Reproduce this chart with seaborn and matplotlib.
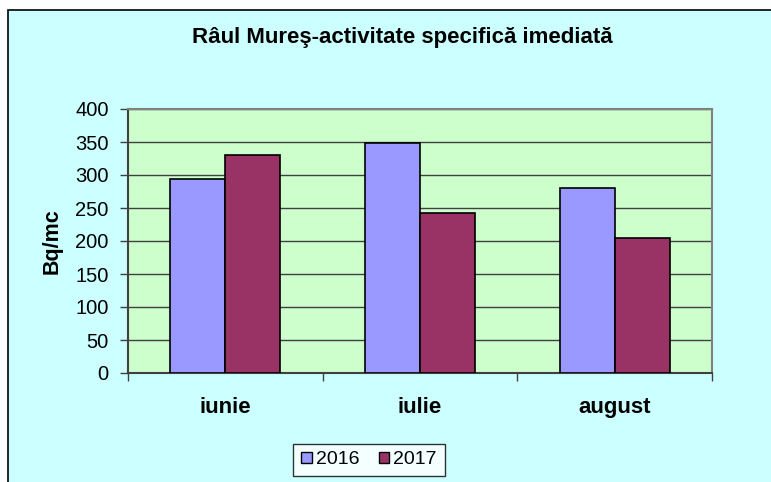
import matplotlib
matplotlib.use("Agg")
import matplotlib.pyplot as plt
import matplotlib.patches as mpatches
from matplotlib.ticker import FixedLocator
import seaborn as sns
import pandas as pd

# data
months = ["iunie", "iulie", "august"]
years = ["2016", "2017"]
values_2016 = [294, 348, 281]
values_2017 = [330, 243, 204]
colors = ["#9999FF", "#993366"]

df = pd.DataFrame({
    "luna": months * 2,
    "an": [years[0]] * 3 + [years[1]] * 3,
    "val": values_2016 + values_2017,
})

sns.set_theme(style="white")
plt.rcParams["font.family"] = ["Liberation Sans", "DejaVu Sans"]
plt.rcParams["text.color"] = "black"
plt.rcParams["xtick.color"] = "black"
plt.rcParams["ytick.color"] = "black"
plt.rcParams["axes.labelcolor"] = "black"

fig = plt.figure(figsize=(7.71, 4.82), dpi=100)
fig.patch.set_facecolor("white")
# chart area background with border (top/left visible)
bg = mpatches.Rectangle((8 / 771, -0.05), 1.1, 1 - 10 / 482 + 0.05,
                        transform=fig.transFigure, facecolor="#CCFFFF",
                        edgecolor="black", linewidth=1.2, zorder=-10)
fig.patches.append(bg)

ax = fig.add_axes([128 / 771, 1 - 373 / 482, (712 - 128) / 771, (373 - 109) / 482])
ax.set_facecolor("#CCFFCC")

sns.barplot(data=df, x="luna", y="val", hue="an", palette=colors, width=0.566,
            edgecolor="black", linewidth=1.2, saturation=1, ax=ax, legend=False,
            zorder=3)

ax.set_ylim(0, 400)
ax.set_yticks(range(0, 401, 50))
ax.set_xlim(-0.5, 2.5)
ax.yaxis.grid(True, color="#404040", linewidth=1, zorder=1)
ax.set_axisbelow(True)

for s in ax.spines.values():
    s.set_color("#808080")
    s.set_linewidth(1.5)
ax.spines["left"].set_color("#404040")
ax.spines["bottom"].set_color("#404040")

ax.tick_params(axis="y", direction="out", length=6, width=1, color="#404040",
               labelsize=14.5, pad=8, left=True)
ax.tick_params(axis="x", which="major", length=0, labelsize=16, pad=17)
ax.xaxis.set_minor_locator(FixedLocator([-0.5, 0.5, 1.5, 2.5]))
ax.tick_params(axis="x", which="minor", direction="out", length=6, width=1,
               color="#404040", bottom=True)
for lbl in ax.get_xticklabels():
    lbl.set_fontweight("bold")

ax.set_xlabel("")
ax.set_ylabel("Bq/mc", fontsize=15.5, fontweight="bold", labelpad=9)

fig.text(402 / 771, 1 - 37 / 482, "Râul Mureş-activitate specifică imediată",
         ha="center", va="center", fontsize=16, fontweight="bold")

handles = [mpatches.Patch(facecolor=c, edgecolor="black", linewidth=1) for c in colors]
leg = fig.legend(handles, years, loc="center", bbox_to_anchor=(369 / 771, 1 - 460 / 482),
                 ncol=2, fontsize=14, frameon=True, fancybox=False, handlelength=0.55,
                 handleheight=0.55, handletextpad=0.2, columnspacing=1.0,
                 borderpad=0.4, edgecolor="black")
leg.get_frame().set_facecolor("white")
leg.get_frame().set_linewidth(1)

fig.savefig("out.png", dpi=100)
